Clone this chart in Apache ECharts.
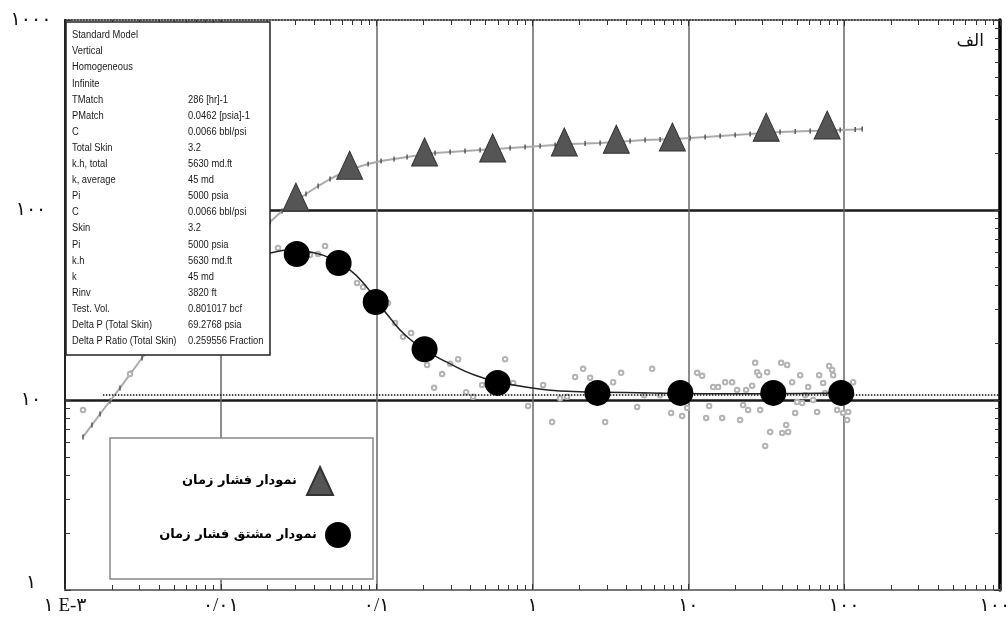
<!DOCTYPE html>
<html>
<head>
<meta charset="utf-8">
<script src="https://cdn.jsdelivr.net/npm/echarts@6/dist/echarts.min.js"></script>
<style>
html,body{margin:0;padding:0;background:#fff;}
#c{width:1008px;height:621px;}
</style>
</head>
<body>
<div id="c"></div>
<script>
// ---- tick labels ----
const xTickLabels = ['۱ E-۳', '۰/۰۱', '۰/۱', '۱', '۱۰', '۱۰۰', '۱۰۰۰'];
const yTickLabels = ['۱', '۱۰', '۱۰۰', '۱۰۰۰'];

// ---- legend names ----
const nameP = 'نمودار فشار زمان';
const nameD = 'نمودار مشتق فشار زمان';
const cornerLabel = 'الف';

// ---- highlighted markers ----
const triT = [0.0303, 0.0671, 0.203, 0.555, 1.60, 3.45, 7.9, 31.6, 77.8];
const triP = [117, 172, 202, 212, 228, 236, 242, 273, 280];
const cirT = [0.0307, 0.057, 0.0986, 0.203, 0.597, 2.61, 8.89, 35.1, 95.7];
const cirD = [58.7, 52.6, 32.8, 18.5, 12.3, 10.9, 10.9, 10.9, 10.9];

// ---- pressure data ----
const pT = [0.001305, 0.00149, 0.001678, 0.001945, 0.002254, 0.002652, 0.003121, 0.00407, 0.00547, 0.00735,
  0.00988, 0.01328, 0.01658, 0.0207, 0.0247, 0.0295, 0.0352, 0.0421, 0.0502, 0.0600,
  0.0727, 0.0881, 0.1067, 0.1293, 0.1567, 0.190, 0.237, 0.296, 0.369, 0.461,
  0.575, 0.718, 0.896, 1.119, 1.397, 1.743, 2.176, 2.716, 3.39, 4.23,
  5.28, 6.59, 8.23, 10.27, 12.82, 16.0, 19.97, 24.9, 31.1, 38.8,
  48.5, 60.5, 75.5, 94.3, 117.7, 130.5];
const pP = [6.39, 7.39, 8.44, 9.88, 11.57, 13.87, 16.64, 21.7, 28.7, 37.5,
  48.3, 61.6, 73.0, 86.5, 98.8, 110.2, 121.4, 133.7, 145.6, 156.6,
  166.4, 174.7, 181.1, 185.5, 190.0, 194.7, 199.5, 202.0, 204.4, 206.9,
  209.4, 212.0, 214.6, 217.2, 219.9, 222.6, 223.9, 225.3, 228.0, 230.8,
  233.6, 235.0, 236.4, 239.3, 242.2, 245.2, 248.2, 251.2, 254.3, 257.4,
  258.9, 260.5, 262.0, 263.6, 265.2, 266.8];

// ---- derivative data (scatter) ----
const dT = [0.001305, 0.002614, 0.02329, 0.03737, 0.04206, 0.04665, 0.07484, 0.08177, 0.1183, 0.1312,
  0.1477, 0.1663, 0.2106, 0.2336, 0.2629, 0.2959, 0.333, 0.3749, 0.4156, 0.4748,
  0.667, 0.751, 0.937, 1.17, 1.336, 1.504, 1.668, 1.877, 2.112, 2.343,
  2.924, 3.291, 3.704, 4.692, 5.204, 5.857, 6.592, 7.756, 9.125, 9.824,
  11.39, 12.27, 13.01, 13.60, 14.43, 15.54, 16.48, 17.23, 19.10, 20.57,
  21.50, 22.47, 23.49, 24.20, 25.67, 26.84, 27.65, 28.48, 28.90, 32.06,
  33.50, 31.12, 39.40, 39.99, 42.44, 43.71, 43.07, 46.37, 48.48, 49.93,
  52.19, 53.75, 56.18, 58.75, 63.24, 67.09, 69.10, 73.32, 75.51, 80.11,
  83.75, 84.99, 90.16, 98.5, 104.5, 106.1, 114.2];
const dD = [8.86, 13.7, 63.1, 58.0, 58.7, 64.6, 41.3, 39.3, 32.4, 25.4,
  21.5, 22.5, 15.3, 11.6, 13.7, 15.5, 16.4, 11.0, 10.4, 12.0,
  16.4, 12.3, 9.30, 12.0, 7.66, 10.2, 10.4, 13.2, 14.6, 13.1,
  7.66, 12.4, 13.9, 9.19, 10.6, 14.6, 10.6, 8.55, 8.24, 9.08,
  13.9, 13.4, 8.04, 9.30, 11.7, 11.7, 8.04, 12.4, 12.4, 11.3,
  7.85, 9.41, 11.3, 8.86, 11.9, 15.7, 14.0, 13.5, 8.86, 14.0,
  6.79, 5.73, 15.7, 6.71, 7.39, 6.79, 15.3, 12.4, 8.55, 9.76,
  13.5, 9.65, 10.6, 11.7, 10.0, 8.65, 13.5, 12.3, 10.9, 15.1,
  14.4, 13.5, 8.86, 8.55, 7.85, 8.65, 12.4];

// ---- derivative model curve ----
const mT = [0.01539, 0.02069, 0.0278, 0.03737, 0.0502, 0.0675, 0.0842, 0.0991, 0.1219, 0.1522,
  0.2045, 0.2959, 0.4281, 0.6196, 0.965, 1.504, 2.716, 5.686, 11.91, 28.9, 98.5];
const mD = [57.3, 59.4, 61.6, 60.1, 55.9, 48.3, 40.3, 33.6, 27.0, 22.0,
  18.3, 15.5, 13.5, 12.4, 11.6, 11.15, 11.0, 10.9, 10.8, 10.8, 10.9];

// ---- stabilisation level (dotted) ----
const radialLevel = 10.6;
const radialStart = 0.00175;
const radialEnd = 1000;

// ---- info box text ----
const infoLabels = ['Standard Model', 'Vertical', 'Homogeneous', 'Infinite', 'TMatch', 'PMatch', 'C', 'Total Skin',
  'k.h, total', 'k, average', 'Pi', 'C', 'Skin', 'Pi', 'k.h', 'k', 'Rinv', 'Test. Vol.',
  'Delta P (Total Skin)', 'Delta P Ratio (Total Skin)'];
const infoValues = ['', '', '', '', '286 [hr]-1', '0.0462 [psia]-1', '0.0066 bbl/psi', '3.2',
  '5630 md.ft', '45 md', '5000 psia', '0.0066 bbl/psi', '3.2', '5000 psia', '5630 md.ft', '45 md', '3820 ft', '0.801017 bcf',
  '69.2768 psia', '0.259556 Fraction'];

const zip = (a, b) => a.map((v, i) => [v, b[i]]);
const dec = v => Math.round(Math.log10(v));
const labelFont = '"Liberation Serif", "DejaVu Sans", serif';
const infoFont = '11.7px "Liberation Sans", Arial, sans-serif';

const chart = echarts.init(document.getElementById('c'), null, {renderer: 'canvas'});

const option = {
  backgroundColor: '#fff',
  animation: false,
  grid: {left: 65, right: 8, top: 20, bottom: 31, containLabel: false, outerBoundsMode: 'none'},
  xAxis: [{
    type: 'log', logBase: 10, min: 0.001, max: 1000, position: 'bottom',
    axisLine: {show: true, lineStyle: {color: '#777', width: 2}},
    axisTick: {show: true, inside: true, length: 6, lineStyle: {color: '#333'}},
    minorTick: {show: true, splitNumber: 9, length: 5, lineStyle: {color: '#333'}},
    splitLine: {show: true, showMinLine: false, showMaxLine: false, lineStyle: {color: '#666', width: 1.5}},
    axisLabel: {
      margin: 7, fontSize: 19, color: '#111', fontFamily: labelFont, hideOverlap: false,
      formatter: v => xTickLabels[dec(v) + 3]
    }
  }, {
    type: 'log', logBase: 10, min: 0.001, max: 1000, position: 'top',
    axisLine: {show: true, lineStyle: {color: '#111', width: 1.5, type: 'dotted'}},
    axisTick: {show: true, inside: true, length: 6, lineStyle: {color: '#333'}},
    minorTick: {show: true, splitNumber: 9, length: 5, lineStyle: {color: '#333'}},
    splitLine: {show: false},
    axisLabel: {show: false}
  }],
  yAxis: [{
    type: 'log', logBase: 10, min: 1, max: 1000, position: 'left',
    axisLine: {show: true, lineStyle: {color: '#222', width: 2}},
    axisTick: {show: true, inside: true, length: 6, lineStyle: {color: '#333'}},
    minorTick: {show: true, splitNumber: 9, length: 5, lineStyle: {color: '#333'}},
    splitLine: {show: true, showMinLine: false, showMaxLine: false, lineStyle: {color: '#1a1a1a', width: 2.5}},
    axisLabel: {
      align: 'center', margin: 34, fontSize: 19, color: '#111', fontFamily: labelFont,
      formatter: v => dec(v) === 0 ? '{lo|' + yTickLabels[0] + '}' : yTickLabels[dec(v)],
      rich: {lo: {fontSize: 19, fontFamily: labelFont, color: '#111', padding: [0, 0, 14, 0]}}
    }
  }, {
    type: 'log', logBase: 10, min: 1, max: 1000, position: 'right',
    axisLine: {show: true, lineStyle: {color: '#000', width: 3.5}},
    axisTick: {show: true, inside: true, length: 6, lineStyle: {color: '#333'}},
    minorTick: {show: true, splitNumber: 9, length: 5, lineStyle: {color: '#333'}},
    splitLine: {show: false},
    axisLabel: {show: false}
  }],
  legend: [{
    data: [nameP], right: 674, top: 466, align: 'right', orient: 'vertical',
    itemWidth: 26, itemHeight: 28, padding: 0, selectedMode: false, z: 120,
    textStyle: {fontFamily: 'DejaVu Sans', fontWeight: 'bold', fontSize: 13, color: '#000', padding: [0, 5, 0, 0]}
  }, {
    data: [nameD], right: 657, top: 522, align: 'right', orient: 'vertical',
    itemWidth: 26, itemHeight: 26, padding: 0, selectedMode: false, z: 120,
    textStyle: {fontFamily: 'DejaVu Sans', fontWeight: 'bold', fontSize: 13, color: '#000', padding: [0, 3, 0, 0]}
  }],
  graphic: [
    {type: 'rect', z: 100, shape: {x: 66, y: 22, width: 204, height: 333},
      style: {fill: '#fff', stroke: '#222', lineWidth: 1.5}},
    {type: 'text', z: 101, x: 72, y: 27, scaleX: 0.8,
      style: {text: infoLabels.join('\n'), font: infoFont, fill: '#1a1a1a', lineHeight: 16.1, verticalAlign: 'top'}},
    {type: 'text', z: 101, x: 188, y: 27, scaleX: 0.8,
      style: {text: infoValues.join('\n'), font: infoFont, fill: '#1a1a1a', lineHeight: 16.1, verticalAlign: 'top'}},
    {type: 'rect', z: 100, shape: {x: 110, y: 438, width: 263, height: 141},
      style: {fill: '#fff', stroke: '#888', lineWidth: 1.5}},
    {type: 'text', z: 101, x: 984, y: 33,
      style: {text: cornerLabel, font: '17px "DejaVu Sans", sans-serif', fill: '#111', align: 'right', verticalAlign: 'top'}}
  ],
  series: [{
    name: 'pressure data', type: 'line', xAxisIndex: 0, yAxisIndex: 0, silent: true, z: 3,
    data: zip(pT, pP), showSymbol: true, symbol: 'rect', symbolSize: [1.5, 5],
    itemStyle: {color: '#555'}, lineStyle: {color: '#aaa', width: 2}
  }, {
    name: 'derivative data', type: 'scatter', xAxisIndex: 0, yAxisIndex: 0, silent: true, z: 3,
    data: zip(dT, dD), symbol: 'emptyCircle', symbolSize: 4.5,
    itemStyle: {color: '#b3b3b3', opacity: 1, borderWidth: 1}
  }, {
    name: 'derivative model', type: 'line', xAxisIndex: 0, yAxisIndex: 0, silent: true, z: 4,
    data: zip(mT, mD), smooth: true, showSymbol: false,
    lineStyle: {color: '#222', width: 1.5},
    markLine: {
      silent: true, symbol: 'none', label: {show: false},
      lineStyle: {type: 'dotted', color: '#111', width: 1.5},
      data: [[{coord: [radialStart, radialLevel]}, {coord: [radialEnd, radialLevel]}]]
    }
  }, {
    name: nameP, type: 'scatter', xAxisIndex: 0, yAxisIndex: 0, z: 5,
    data: zip(triT, triP), symbol: 'triangle', symbolSize: [26, 28],
    itemStyle: {color: '#555', opacity: 1, borderColor: '#333', borderWidth: 1}
  }, {
    name: nameD, type: 'scatter', xAxisIndex: 0, yAxisIndex: 0, z: 5,
    data: zip(cirT, cirD), symbol: 'circle', symbolSize: 26,
    itemStyle: {color: '#000', opacity: 1}
  }]
};
chart.setOption(option);
</script>
</body>
</html>
